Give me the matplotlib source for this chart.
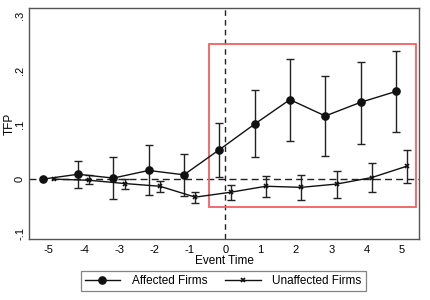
import matplotlib
matplotlib.use("Agg")

import matplotlib.pyplot as plt
from matplotlib.patches import Rectangle
import numpy as np

plt.rcParams["font.family"] = ["Liberation Sans", "DejaVu Sans"]

# event time
event_time = np.arange(-5, 6)

# affected firms: estimate and 95% CI
affected = [0.0, 0.009, 0.002, 0.016, 0.008, 0.054, 0.101, 0.146, 0.116, 0.141, 0.161]
affected_hi = [np.nan, 0.034, 0.041, 0.062, 0.046, 0.103, 0.163, 0.221, 0.190, 0.215, 0.236]
affected_lo = [np.nan, -0.017, -0.036, -0.029, -0.030, 0.004, 0.041, 0.070, 0.043, 0.065, 0.086]

# unaffected firms: estimate and 95% CI
unaffected = [0.0, -0.002, -0.008, -0.013, -0.033, -0.024, -0.013, -0.015, -0.009, 0.003, 0.024]
unaffected_hi = [np.nan, 0.007, 0.000, -0.003, -0.023, -0.010, 0.006, 0.007, 0.015, 0.030, 0.053]
unaffected_lo = [np.nan, -0.009, -0.018, -0.023, -0.044, -0.039, -0.032, -0.039, -0.035, -0.024, -0.007]

yticks = [-0.1, 0, 0.1, 0.2, 0.3]
ytick_labels = ["-.1", "0", ".1", ".2", ".3"]

fig = plt.figure(figsize=(4.3, 3.0), dpi=100)
ax = fig.add_axes([0.068, 0.203, 0.906, 0.770])

xa = event_time - 0.17
xu = event_time + 0.15

aff = np.array(affected)
una = np.array(unaffected)

ax.errorbar(xa, aff,
            yerr=[aff - np.array(affected_lo), np.array(affected_hi) - aff],
            fmt="none", ecolor="#222222", elinewidth=1.0, capsize=3, capthick=1.0)
ax.errorbar(xu, una,
            yerr=[una - np.array(unaffected_lo), np.array(unaffected_hi) - una],
            fmt="none", ecolor="#222222", elinewidth=1.0, capsize=3, capthick=1.0)

ax.plot(xa, aff, color="#111111", lw=1.0, marker="o", ms=5.2, label="Affected Firms")
ax.plot(xu, una, color="#111111", lw=1.0, marker="x", ms=3, mew=1.2, label="Unaffected Firms")

ax.axhline(0, color="#222222", lw=1.0, ls=(0, (5, 3)), zorder=0)
ax.axvline(0, color="#222222", lw=1.0, ls=(0, (4, 3)), zorder=0)

# highlight box for post-event period
ax.add_patch(Rectangle((-0.45, -0.051), 5.85, 0.299, fill=False,
                       edgecolor="#f06060", lw=1.3, zorder=1))

ax.set_xlim(-5.55, 5.48)
ax.set_ylim(-0.11, 0.314)
ax.set_xticks(event_time)
ax.set_xticklabels([str(t) for t in event_time], fontsize=8)
ax.set_yticks(yticks)
ax.set_yticklabels(ytick_labels, fontsize=8, rotation=90, va="center")
ax.tick_params(length=0, pad=4)
ax.tick_params(axis="y", pad=3)
ax.set_xlabel("Event Time", fontsize=8.5, labelpad=0)
ax.set_ylabel("TFP", fontsize=8.5)
ax.yaxis.set_label_coords(-0.035, 0.5)

for s in ax.spines.values():
    s.set_color("#555555")
    s.set_linewidth(1.0)

leg = fig.legend(loc="center", bbox_to_anchor=(0.519, 0.063), ncol=2,
                 fontsize=8.5, frameon=True, fancybox=False,
                 edgecolor="#666666", handlelength=3.0, columnspacing=1.5,
                 borderpad=0.35, handletextpad=1.0)
leg.get_frame().set_linewidth(0.9)

fig.savefig("out.png", dpi=100)
